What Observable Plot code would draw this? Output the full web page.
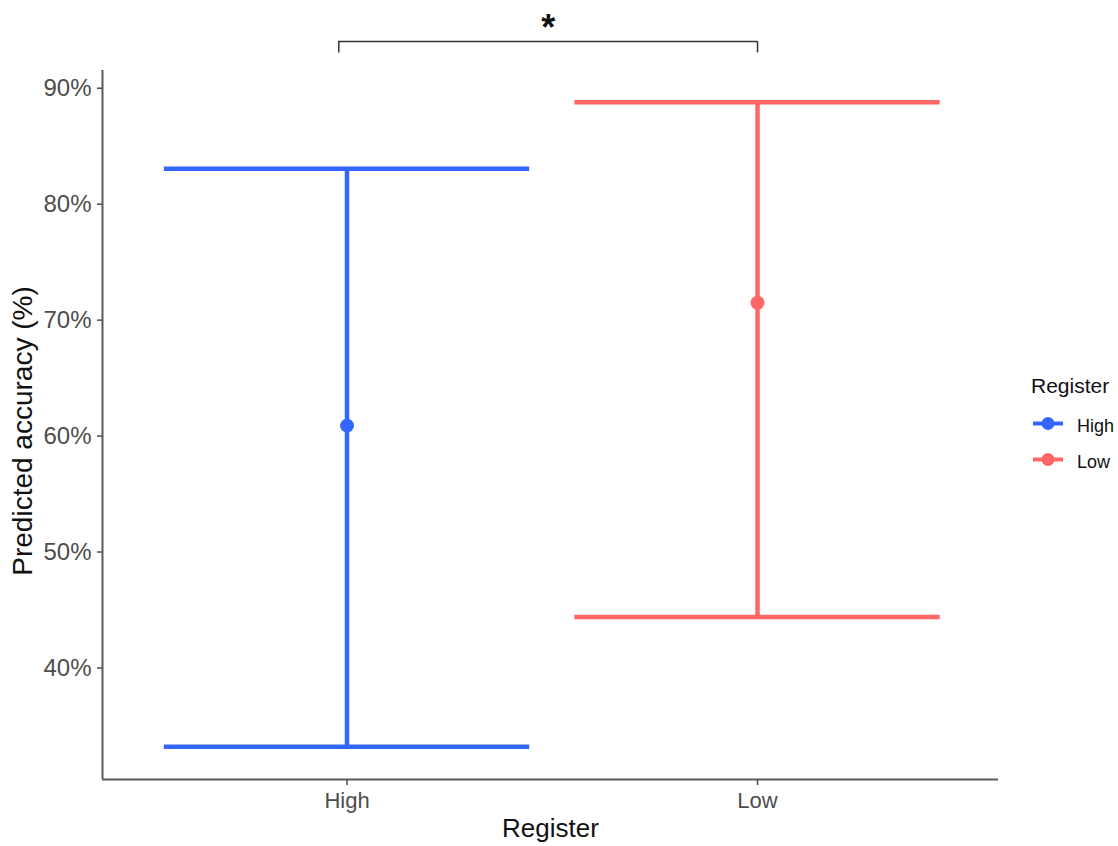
<!DOCTYPE html>
<html><head><meta charset="utf-8">
<script src="https://cdn.jsdelivr.net/npm/d3@7"></script>
<script src="https://cdn.jsdelivr.net/npm/@observablehq/plot@0.6"></script>
<style>
html,body{margin:0;padding:0;background:#fff;}
#wrap{position:relative;width:1118px;height:846px;font-family:"Liberation Sans",Arial,sans-serif;}
#legend{position:absolute;left:1000px;top:360px;}
</style></head><body><div id="wrap"></div>
<script>
// ---- data ----
const categories = ["High", "Low"];
const estimates = [60.9, 71.5];
const lowerCI = [33.2, 44.4];
const upperCI = [83.05, 88.8];
const colors = ["#3366ff", "#ff6666"];
const yTicks = [40, 50, 60, 70, 80, 90];
const xTitle = "Register";
const yTitle = "Predicted accuracy (%)";
const legendTitle = "Register";
const sigLabel = "*";

const data = categories.map((c, i) => ({cat: c, pos: i + 1, est: estimates[i], lo: lowerCI[i], hi: upperCI[i], col: colors[i]}));

const yDomain = [30.38, 91.53];
const xDomain = [0.4044, 2.587];
const bracketY = 94.03, bracketTickY = 93.05;
const font = '"Liberation Sans", Arial, sans-serif';

const chart = Plot.plot({
  width: 1118,
  height: 846,
  marginLeft: 102,
  marginRight: 120,
  marginTop: 70,
  marginBottom: 67,
  style: {fontFamily: font, background: "#fff", overflow: "visible"},
  x: {domain: xDomain, axis: null},
  y: {domain: yDomain, axis: null},
  marks: [
    // axis lines
    Plot.ruleY([yDomain[0]], {stroke: "#5a5a5a", strokeWidth: 2}),
    Plot.ruleX([xDomain[0]], {stroke: "#5a5a5a", strokeWidth: 2}),
    Plot.axisY(yTicks, {tickSize: 5, tickPadding: 6, fontSize: 24, tickFormat: d => d + "%", label: null, color: "#4d4d4d", strokeWidth: 1.5}),
    Plot.axisX([1, 2], {tickSize: 6, tickPadding: 7, fontSize: 22, tickFormat: d => categories[d - 1], label: null, color: "#4d4d4d", strokeWidth: 1.5}),
    // error bars
    Plot.ruleX(data, {x: "pos", y1: "lo", y2: "hi", stroke: "col", strokeWidth: 4.5}),
    Plot.ruleY(data, {y: "hi", x1: d => d.pos - 0.445, x2: d => d.pos + 0.445, stroke: "col", strokeWidth: 4.5}),
    Plot.ruleY(data, {y: "lo", x1: d => d.pos - 0.445, x2: d => d.pos + 0.445, stroke: "col", strokeWidth: 4.5}),
    Plot.dot(data, {x: "pos", y: "est", fill: "col", r: 7}),
    // significance bracket
    Plot.ruleY([bracketY], {x1: 0.98, x2: 2, stroke: "#333", strokeWidth: 1.5}),
    Plot.ruleX([0.98, 2], {x: d => d, y1: bracketTickY, y2: bracketY, stroke: "#333", strokeWidth: 1.5}),
    Plot.text([sigLabel], {x: 1.49, y: bracketY, text: d => d, fontSize: 36, fontWeight: "bold", dy: -13, fill: "#111"}),
    // axis titles
    Plot.text([xTitle], {frameAnchor: "bottom", text: d => d, fontSize: 26, dy: 57, fill: "#111"}),
    Plot.text([yTitle], {frameAnchor: "left", textAnchor: "middle", text: d => d, fontSize: 28, rotate: -90, dx: -79, dy: 6, fill: "#111"})
  ]
});
document.getElementById("wrap").appendChild(chart);

// legend
const lg = d3.select("#wrap").append("svg").attr("id", "legend").attr("width", 118).attr("height", 120)
  .style("font-family", font);
lg.append("text").attr("x", 31).attr("y", 33)
  .attr("font-size", 21).attr("fill", "#111").text(legendTitle);
categories.forEach((c, i) => {
  const cy = 63.5 + i * 36;
  lg.append("line").attr("x1", 33).attr("x2", 63).attr("y1", cy).attr("y2", cy)
    .attr("stroke", colors[i]).attr("stroke-width", 4);
  lg.append("circle").attr("cx", 48).attr("cy", cy).attr("r", 6.5).attr("fill", colors[i]);
  lg.append("text").attr("x", 77).attr("y", cy + 2).attr("dominant-baseline", "central")
    .attr("font-size", 18).attr("fill", "#111").text(c);
});
</script></body></html>
